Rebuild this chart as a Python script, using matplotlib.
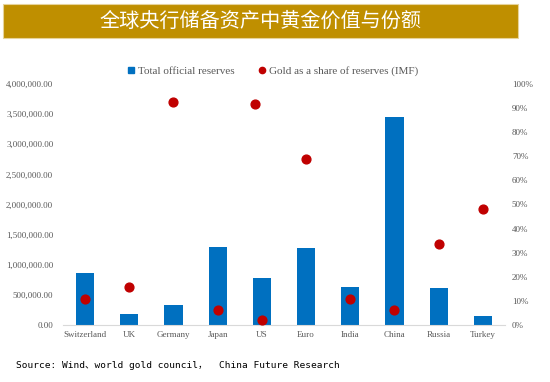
import matplotlib.pyplot as plt
from matplotlib.ticker import FuncFormatter
import numpy as np

# values
countries = ['Switzerland', 'UK', 'Germany', 'Japan', 'US', 'Euro',
             'India', 'China', 'Russia', 'Turkey']
total_reserves = [865000, 185000, 330000, 1290000, 785000, 1275000,
                  630000, 3450000, 610000, 150000]
gold_share = [10.7, 15.9, 92.5, 6.2, 2.1, 68.8, 10.8, 6.2, 33.5, 48.3]
# a second dot sits just left of the US bar near the top
us_extra_share = 91.6

title = '全球央行储备资产中黄金价值与份额'
source = 'Source: Wind、world gold council，  China Future Research'

blue = '#0070C0'
red = '#C00000'
grey = '#595959'
serif = ['Liberation Serif', 'DejaVu Serif']

fig = plt.figure(figsize=(5.5, 3.82), dpi=100)

# title banner
fig.patches.append(plt.Rectangle((3 / 550, 1 - 38 / 382), 515 / 550, 34 / 382,
                                 transform=fig.transFigure,
                                 facecolor='#BF8F00', edgecolor='#E6D39A',
                                 linewidth=0.8))
fig.text(261 / 550, 1 - 21 / 382, title, color='white', fontsize=14.5,
         ha='center', va='center', family=['Noto Sans CJK SC'], weight='medium')

ax = fig.add_axes([63 / 550, 57 / 382, 442 / 550, 241 / 382])
x = np.arange(len(countries))
ax.bar(x, total_reserves, width=0.41, color=blue, zorder=2)
ax.set_xlim(-0.5, 9.5)
ax.set_ylim(0, 4000000)
ax.set_yticks(np.arange(0, 4000001, 500000))
ax.yaxis.set_major_formatter(FuncFormatter(lambda v, p: f'{v:,.2f}'))
ax.set_xticks(x)
ax.set_xticklabels(countries)
for s in ['top', 'left', 'right']:
    ax.spines[s].set_visible(False)
ax.spines['bottom'].set_color('#D9D9D9')
ax.tick_params(length=0, labelsize=6.5, labelcolor=grey)
ax.tick_params(axis='y', pad=7)
ax.tick_params(axis='x', pad=4)
for lbl in ax.get_xticklabels() + ax.get_yticklabels():
    lbl.set_family(serif)

ax2 = ax.twinx()
ax2.scatter(x, gold_share, s=40, color=red, zorder=3)
ax2.scatter([x[4] - 0.15], [us_extra_share], s=40, color=red, zorder=3)
ax2.set_ylim(0, 100)
ax2.set_yticks(np.arange(0, 101, 10))
ax2.yaxis.set_major_formatter(FuncFormatter(lambda v, p: f'{v:.0f}%'))
for s in ['top', 'left', 'right', 'bottom']:
    ax2.spines[s].set_visible(False)
ax2.tick_params(length=0, labelsize=6.5, labelcolor=grey, pad=5)
for lbl in ax2.get_yticklabels():
    lbl.set_family(serif)

# legend
h1 = plt.Line2D([], [], marker='s', ls='', color=blue, markersize=4.5)
h2 = plt.Line2D([], [], marker='o', ls='', color=red, markersize=4.5)
fig.legend([h1, h2], ['Total official reserves', 'Gold as a share of reserves (IMF)'],
           loc='center', bbox_to_anchor=(273 / 550, 1 - 71 / 382), ncol=2,
           frameon=False, handlelength=0.6, handletextpad=0.3, columnspacing=2.2,
           prop={'family': serif, 'size': 8}, labelcolor=grey)

fig.text(16 / 550, 1 - 366 / 382, source, fontsize=6.8, va='center',
         family=['DejaVu Sans Mono', 'Noto Sans CJK SC'])

fig.savefig('out.png', dpi=100)
